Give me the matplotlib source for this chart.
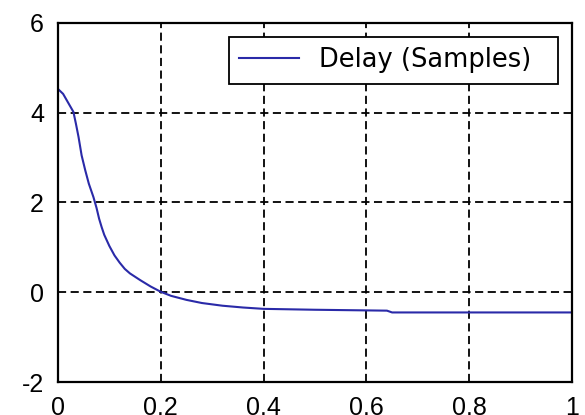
import numpy as np
import matplotlib.pyplot as plt

# normalized frequency and group delay
freq = [0, 0.01, 0.017, 0.025, 0.03, 0.035, 0.04, 0.046, 0.053, 0.06, 0.069, 0.075,
        0.08, 0.085, 0.09, 0.1, 0.11, 0.12, 0.13, 0.14, 0.16, 0.18, 0.2, 0.22,
        0.25, 0.28, 0.32, 0.36, 0.4, 0.5, 0.64, 0.65, 0.8, 1.0]
delay = [4.53, 4.42, 4.28, 4.12, 4.02, 3.75, 3.46, 3.05, 2.72, 2.42, 2.12, 1.88,
         1.64, 1.45, 1.28, 1.03, 0.82, 0.66, 0.52, 0.42, 0.27, 0.13, 0.01, -0.08,
         -0.17, -0.24, -0.30, -0.34, -0.37, -0.39, -0.41, -0.45, -0.45, -0.45]

xticks = [0, 0.2, 0.4, 0.6, 0.8, 1]
xticklabels = ['0', '0.2', '0.4', '0.6', '0.8', '1']
yticks = [-2, 0, 2, 4, 6]

plt.rcParams['font.family'] = ['Liberation Sans', 'DejaVu Sans']
plt.rcParams['axes.unicode_minus'] = False

fig = plt.figure(figsize=(5.85, 4.15), dpi=100)
ax = fig.add_axes([0.0991, 0.0795, 0.8787, 0.8651])

# trailing spaces give the legend box some room on the right
ax.plot(freq, delay, color='#2a2aa8', linewidth=1.5, label='Delay (Samples)  ')

ax.set_xlim(0, 1)
ax.set_ylim(-2, 6)
ax.set_xticks(xticks)
ax.set_xticklabels(xticklabels)
ax.set_yticks(yticks)
ax.tick_params(length=0, labelsize=18, pad=10)

ax.grid(True, color='black', linestyle=(0, (4.5, 2.5)), linewidth=1.3)
for s in ax.spines.values():
    s.set_linewidth(1.6)
    s.set_color('black')

leg = ax.legend(loc='upper right', prop={'family': 'DejaVu Sans', 'size': 18.5},
                handlelength=2.3, borderaxespad=0.55, fancybox=False, framealpha=1,
                edgecolor='black', borderpad=0.4, handletextpad=0.8)
leg.get_frame().set_linewidth(1.3)

fig.savefig('out.png', dpi=100)
